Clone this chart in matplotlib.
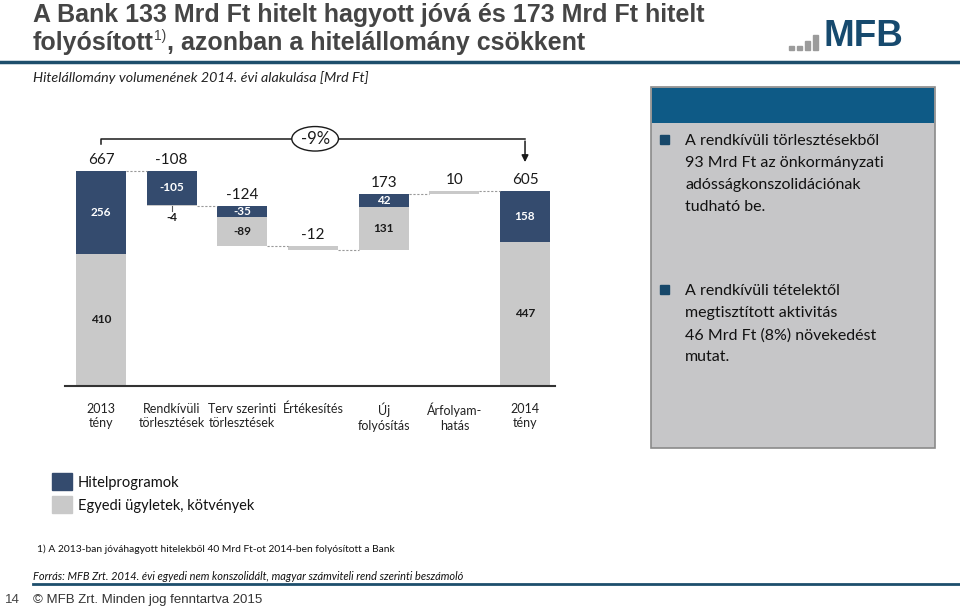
import numpy as np
import matplotlib.pyplot as plt
from matplotlib.patches import Rectangle, Ellipse

# adatok
kategoriak = ['2013\ntény', 'Rendkívüli\ntörlesztések', 'Terv szerinti\ntörlesztések',
              'Értékesítés', 'Új\nfolyósítás', 'Árfolyam-\nhatás', '2014\ntény']
hitelprogram = [256, -105, -35, 0, 42, 0, 158]
egyedi = [410, -4, -89, -12, 131, 10, 447]
osszesen = [667, -108, -124, -12, 173, 10, 605]
valtozas_szazalek = '-9%'

KEK = '#344b6e'
SZURKE = '#c9c9c9'
SOTET = '#1d4e6c'
W, H = 960, 609

plt.rcParams['font.family'] = ['Lato', 'DejaVu Sans']
fig = plt.figure(figsize=(9.6, 6.09), dpi=100)
hatter = fig.add_axes([0, 0, 1, 1])
hatter.axis('off')


def fp(x, y):
    # pixel -> figure koordináta
    return x / W, 1 - y / H


# cím
CIM = dict(family=['Liberation Sans Narrow', 'Liberation Sans'], weight='bold',
           fontsize=18, color='#454545')
fig.text(*fp(33, 22), 'A Bank 133 Mrd Ft hitelt hagyott jóvá és 173 Mrd Ft hitelt',
         va='baseline', **CIM)
t1 = hatter.text(*fp(33, 50), 'folyósított', va='baseline', **CIM)
t2 = hatter.annotate('1)', xy=(1.005, 0.62), xycoords=t1, va='baseline', ha='left',
                     family='Liberation Sans', fontsize=10, color='#454545')
hatter.annotate(', azonban a hitelállomány csökkent', xy=(1, 0), xycoords=(t2, t1),
                va='bottom', ha='left', **CIM)
fig.add_artist(plt.Line2D([0, 1], [1 - 62 / H] * 2, color=SOTET, lw=2.5))

# logó
for bx, bh in zip([789, 797, 805, 813], [4, 4, 9, 15]):
    fig.add_artist(Rectangle(fp(bx, 50), 5 / W, bh / H, color='#9b9b9b'))
fig.text(*fp(824, 37), 'MFB', family='Liberation Sans', weight='bold', fontsize=26.5,
         color='#174a6e', va='center')

fig.text(*fp(33, 78), 'Hitelállomány volumenének 2014. évi alakulása [Mrd Ft]',
         style='italic', fontsize=10.3, color='#222222', va='center')

# vízesés diagram
ax = fig.add_axes([65 / W, 1 - 386 / H, 490 / W, 256 / H])
skala = 0.3223
ax.set_ylim(0, 256 / skala)
ax.set_xlim((65 - 101) / 70.67, (555 - 101) / 70.67)
x = np.arange(len(kategoriak))
bw = 0.71

szint = []
akt = 0
for i in range(len(kategoriak)):
    if i == 0 or i == len(kategoriak) - 1:
        ax.bar(i, egyedi[i], bw, bottom=0, color=SZURKE)
        ax.bar(i, hitelprogram[i], bw, bottom=egyedi[i], color=KEK)
        akt = osszesen[i]
        teto = akt
        ax.text(i, egyedi[i] / 2, str(egyedi[i]), ha='center', va='center',
                fontsize=8.5, weight='bold', color='#1a1a1a')
        ax.text(i, egyedi[i] + hitelprogram[i] / 2, str(hitelprogram[i]), ha='center',
                va='center', fontsize=8.5, weight='bold', color='white')
    elif osszesen[i] < 0:
        teto = akt
        if hitelprogram[i] != 0:
            ax.bar(i, -hitelprogram[i], bw, bottom=akt + hitelprogram[i], color=KEK)
            ax.text(i, akt + hitelprogram[i] / 2, str(hitelprogram[i]), ha='center',
                    va='center', fontsize=8.5, weight='bold', color='white')
        ax.bar(i, -egyedi[i], bw, bottom=akt + hitelprogram[i] + egyedi[i], color=SZURKE)
        if abs(egyedi[i]) > 20:
            ax.text(i, akt + hitelprogram[i] + egyedi[i] / 2, str(egyedi[i]), ha='center',
                    va='center', fontsize=8.5, weight='bold', color='#1a1a1a')
        elif hitelprogram[i] != 0:
            lent = akt + hitelprogram[i] + egyedi[i]
            ax.plot([i, i], [lent, lent - 16], color='#555555', lw=0.8)
            ax.text(i, lent - 18, str(egyedi[i]), ha='center', va='top',
                    fontsize=8.5, weight='bold', color='#1a1a1a')
        akt = akt + osszesen[i]
    else:
        ax.bar(i, egyedi[i], bw, bottom=akt, color=SZURKE)
        if egyedi[i] > 20:
            ax.text(i, akt + egyedi[i] / 2, str(egyedi[i]), ha='center', va='center',
                    fontsize=8.5, weight='bold', color='#1a1a1a')
        if hitelprogram[i] != 0:
            ax.bar(i, hitelprogram[i], bw, bottom=akt + egyedi[i], color=KEK)
            ax.text(i, akt + egyedi[i] + hitelprogram[i] / 2, str(hitelprogram[i]),
                    ha='center', va='center', fontsize=8.5, weight='bold', color='white')
        akt = akt + egyedi[i] + hitelprogram[i]
        teto = akt
    szint.append(akt)
    ax.annotate(str(osszesen[i]), (i, teto), xytext=(0, 3), textcoords='offset points',
                ha='center', va='bottom', fontsize=11, color='#1a1a1a')

# összekötő vonalak
for i in range(len(kategoriak) - 1):
    ax.plot([i + bw / 2, i + 1 - bw / 2], [szint[i], szint[i]], color='#999999',
            lw=0.8, ls=(0, (2, 1.5)))

# -9% zárójel
yb = 767
ax.plot([0, 0, 6], [752, yb, yb], color='#1a1a1a', lw=1.1, clip_on=False)
ax.annotate('', xy=(6, 686), xytext=(6, yb + 1.5),
            arrowprops=dict(arrowstyle='-|>', color='#1a1a1a', lw=1.1, mutation_scale=10),
            annotation_clip=False)
ax.add_patch(Ellipse((3.03, yb), 0.66, 76, facecolor='white', edgecolor='#1a1a1a',
                     lw=1.0, clip_on=False, zorder=5))
ax.text(3.03, yb, valtozas_szazalek, ha='center', va='center', fontsize=12,
        color='#1a1a1a', zorder=6)

for s in ['top', 'right', 'left']:
    ax.spines[s].set_visible(False)
ax.spines['bottom'].set_color('#333333')
ax.spines['bottom'].set_linewidth(1.5)
ax.set_yticks([])
ax.set_xticks(x)
ax.set_xticklabels(kategoriak, fontsize=9, color='#222222', linespacing=1.25)
ax.tick_params(axis='x', length=0, pad=12)

# jobb oldali doboz
fig.add_artist(Rectangle(fp(651, 448), 284 / W, 361 / H, facecolor='#c6c6c8',
                         edgecolor='#8a8a8a', lw=1.2))
fig.add_artist(Rectangle(fp(652, 123), 282 / W, 35 / H, facecolor='#0e5a86',
                         edgecolor='none'))
pontok = [(140, 'A rendkívüli törlesztésekből\n93 Mrd Ft az önkormányzati\n'
                'adósságkonszolidációnak\ntudható be.'),
          (290, 'A rendkívüli tételektől\nmegtisztított aktivitás\n'
                '46 Mrd Ft (8%) növekedést\nmutat.')]
for py, t in pontok:
    fig.add_artist(Rectangle(fp(660, py + 4), 9 / W, 9 / H, color='#17486a'))
    fig.text(*fp(685, py - 6), t, fontsize=11.5, color='#111111', va='top',
             linespacing=1.72)

# jelmagyarázat
fig.add_artist(Rectangle(fp(52, 490), 20 / W, 17 / H, color=KEK))
fig.add_artist(Rectangle(fp(52, 513), 20 / W, 17 / H, color=SZURKE))
fig.text(*fp(78, 483), 'Hitelprogramok', fontsize=10.5, color='#111111', va='center')
fig.text(*fp(78, 506), 'Egyedi ügyletek, kötvények', fontsize=10.5, color='#111111',
         va='center')

# lábjegyzetek
fig.text(*fp(37, 549), '1) A 2013-ban jóváhagyott hitelekből 40 Mrd Ft-ot 2014-ben folyósított a Bank',
         fontsize=7.4, color='#111111', va='center')
fig.text(*fp(33, 576), 'Forrás: MFB Zrt. 2014. évi egyedi nem konszolidált, magyar számviteli rend szerinti beszámoló',
         fontsize=7.9, style='italic', color='#111111', va='center')
fig.add_artist(plt.Line2D([33 / W, 1], [1 - 584 / H] * 2, color=SOTET, lw=2))
fig.text(*fp(5, 600), '14', family='Liberation Sans', fontsize=9.5, color='#444444',
         va='center')
fig.text(*fp(33, 600), '© MFB Zrt. Minden jog fenntartva 2015', family='Liberation Sans',
         fontsize=9.5, color='#333333', va='center')

fig.savefig('out.png', dpi=100)
